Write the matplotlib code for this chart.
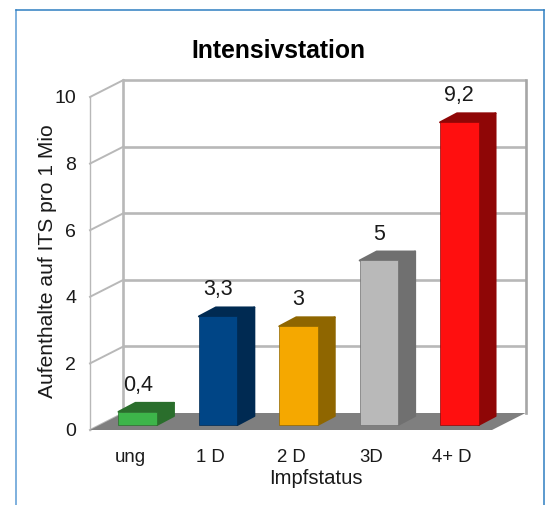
import matplotlib
matplotlib.use("Agg")
import matplotlib.pyplot as plt
from matplotlib.lines import Line2D

categories = ["ung", "1 D", "2 D", "3D", "4+ D"]
values = [0.4, 3.3, 3, 5, 9.2]
value_labels = ["0,4", "3,3", "3", "5", "9,2"]
y_ticks = [0, 2, 4, 6, 8, 10]
front_colors = ["#3DB54A", "#004586", "#F5A800", "#B9B9B9", "#FF0F0F"]
side_colors = ["#2A6E2C", "#002A52", "#8F6600", "#707070", "#8F0606"]
title = "Intensivstation"
x_label = "Impfstatus"
y_label = "Aufenthalte auf ITS pro 1 Mio"

W, H = 549, 505
plt.rcParams["font.family"] = ["Liberation Sans", "DejaVu Sans"]
fig = plt.figure(figsize=(W / 100, H / 100), dpi=100, facecolor="white")

# front plane of the chart, in pixels
L, R, T, B = 90, 492, 97, 430
ax = fig.add_axes([L / W, 1 - B / H, (R - L) / W, (B - T) / H])
ax.set_xlim(-0.5, len(categories) - 0.5)
ax.set_ylim(0, 10)
ax.patch.set_visible(False)
for s in ax.spines.values():
    s.set_visible(False)

PX = (len(categories)) / (R - L)   # data x per pixel
PY = 10 / (B - T)                  # data y per pixel
WALL_DX, WALL_DY = 33.5 * PX, 17 * PY
GRID = "#B8B8B8"

# floor
x0, x1 = ax.get_xlim()
ax.fill([x0, x1, x1 + WALL_DX, x0 + WALL_DX], [0, 0, WALL_DY, WALL_DY],
        color="#7F7F7F", lw=0, zorder=1.5, clip_on=False)
# back wall grid and side wall
for t in y_ticks:
    if t > 0:
        ax.plot([x0 + WALL_DX, x1 + WALL_DX], [t + WALL_DY] * 2, color=GRID, lw=1.9,
                clip_on=False, zorder=1, solid_capstyle="butt")
    ax.plot([x0, x0 + WALL_DX], [t, t + WALL_DY], color=GRID, lw=1.4,
            clip_on=False, zorder=1)
ax.plot([x0 + WALL_DX] * 2, [WALL_DY, 10 + WALL_DY], color=GRID, lw=1.9, clip_on=False, zorder=1)
ax.plot([x1 + WALL_DX] * 2, [WALL_DY, 10 + WALL_DY], color="#A6A6A6", lw=1.9, clip_on=False, zorder=1)
ax.plot([x0, x0], [0, 10], color=GRID, lw=1.0, clip_on=False, zorder=1)

# bars
BAR_W = 38.5 * PX
BAR_X = 7.5 * PX
BAR_Y = 5 * PY
DX, DY = 17 * PX, 9 * PY
SHRINK = 0.988
for i, (v, fc, sc, lab) in enumerate(zip(values, front_colors, side_colors, value_labels)):
    xl = i + BAR_X - BAR_W / 2
    xr = xl + BAR_W
    yb = BAR_Y
    yt = BAR_Y + v * SHRINK
    ax.fill([xr, xr + DX, xr + DX, xr], [yb, yb + DY, yt + DY, yt], fc=sc, ec=sc,
            lw=1.4, joinstyle="round", zorder=3, clip_on=False)
    ax.fill([xl, xr, xr + DX, xl + DX], [yt, yt, yt + DY, yt + DY], fc=sc, ec=sc,
            lw=1.4, joinstyle="round", zorder=3, clip_on=False)
    ax.fill([xl, xr, xr, xl], [yb, yb, yt, yt], fc=fc, ec=sc,
            lw=0.5, zorder=4, clip_on=False)
    ax.annotate(lab, (i + BAR_X, yt + DY), xytext=(0, 5), textcoords="offset points",
                ha="center", va="bottom", fontsize=15.5, color="#1A1A1A", zorder=5,
                annotation_clip=False)

ax.set_xticks(range(len(categories)), categories)
ax.set_yticks(y_ticks, [str(t) for t in y_ticks])
ax.tick_params(axis="x", length=0, pad=14, labelsize=13.4, labelcolor="#1A1A1A")
ax.tick_params(axis="y", length=0, pad=10, labelsize=14, labelcolor="#1A1A1A")

ax.set_xlabel(x_label, fontsize=14.6, color="#1A1A1A")
ax.xaxis.set_label_coords((316 - L) / (R - L), (B - 479) / (B - T))
ax.xaxis.label.set_verticalalignment("center")
ax.set_ylabel(y_label, fontsize=15.1, color="#1A1A1A")
ax.yaxis.set_label_coords((47.5 - L) / (R - L), (B - 261) / (B - T))
ax.yaxis.label.set_verticalalignment("center")

fig.text(278.5 / W, 1 - 51 / H, title, fontsize=17.8, fontweight="bold",
         ha="center", va="center", color="black")

# outer frame, open at the bottom
for xs, ys, col in [((15.5, 15.5), (505, 9.5), "#5B9BD5"),
                    ((15.5, 543.5), (9.5, 9.5), "#2F7FC1"),
                    ((543.5, 543.5), (9.5, 505), "#2F7FC1")]:
    fig.add_artist(Line2D([x / W for x in xs], [1 - y / H for y in ys], color=col, lw=1.1))

fig.savefig("out.png", dpi=100, facecolor="white")
